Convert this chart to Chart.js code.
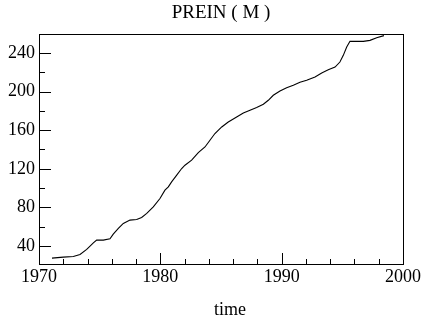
<!DOCTYPE html>
<html>
<head>
<meta charset="utf-8">
<script src="https://cdn.jsdelivr.net/npm/chart.js@4/dist/chart.umd.min.js"></script>
<style>
html,body{margin:0;padding:0;background:#fff;}
#wrap{width:423px;height:324px;}
</style>
</head>
<body>
<div id="wrap"><canvas id="c" width="423" height="324"></canvas></div>
<script>
const chartTitle = 'PREIN ( M )';
const xAxisTitle = 'time';
const years = [1971.07,1972.0,1972.83,1973.38,1973.93,1974.48,1974.75,1975.3,1975.85,1976.12,1976.54,1976.95,1977.5,1978.05,1978.46,1978.88,1979.42,1979.97,1980.38,1980.66,1980.93,1981.35,1981.76,1982.03,1982.58,1983.13,1983.68,1984.09,1984.5,1985.06,1985.6,1986.29,1986.84,1987.39,1987.94,1988.49,1988.9,1989.31,1989.86,1990.41,1990.96,1991.51,1992.06,1992.75,1993.3,1993.84,1994.4,1994.8,1995.08,1995.36,1995.63,1996.18,1996.73,1997.28,1997.83,1998.43];
const values = [27.6,28.6,29.3,31.4,36.6,43.4,46.2,46.2,47.5,52.4,58.3,63.5,66.9,67.6,69.7,73.8,80.6,89.3,97.9,101.3,106.5,113.4,120.3,123.7,128.9,136.8,142.6,149.6,156.5,163.3,168.5,173.6,177.8,180.6,183.4,186.8,190.9,196.1,200.6,204.0,206.4,209.5,211.6,215.0,219.1,222.6,225.3,230.5,237.4,246.0,251.9,251.9,251.9,252.9,255.7,257.8];
const xMajorTicks = [1970,1980,1990,2000];
const xMinorTicks = [1972,1974,1976,1978,1982,1984,1986,1988,1992,1994,1996,1998];
const yMajorTicks = [40,80,120,160,200,240];
const yMinorTicks = [60,100,140,180,220];

const FONT = 'Liberation Serif';

const framePlugin = {
  id: 'frame',
  afterDraw(chart) {
    const {ctx, chartArea: a, scales: {x, y}} = chart;
    ctx.save();
    ctx.strokeStyle = '#000';
    ctx.lineWidth = 1;
    ctx.strokeRect(Math.round(a.left)+0.5, Math.round(a.top)+0.5, Math.round(a.right-a.left), Math.round(a.bottom-a.top));
    ctx.beginPath();
    xMajorTicks.forEach(v => { const px = Math.round(x.getPixelForValue(v))+0.5; ctx.moveTo(px, a.bottom); ctx.lineTo(px, a.bottom-11); });
    xMinorTicks.forEach(v => { const px = Math.round(x.getPixelForValue(v))+0.5; ctx.moveTo(px, a.bottom); ctx.lineTo(px, a.bottom-5); });
    yMajorTicks.forEach(v => { const py = Math.round(y.getPixelForValue(v))+0.5; ctx.moveTo(a.left, py); ctx.lineTo(a.left+12, py); });
    yMinorTicks.forEach(v => { const py = Math.round(y.getPixelForValue(v))+0.5; ctx.moveTo(a.left, py); ctx.lineTo(a.left+6, py); });
    ctx.stroke();
    ctx.fillStyle = '#000';
    ctx.font = '18px "' + FONT + '"';
    ctx.textAlign = 'center';
    ctx.textBaseline = 'alphabetic';
    ctx.fillText(xAxisTitle, 230, 315);
    ctx.restore();
  }
};

new Chart(document.getElementById('c'), {
  type: 'line',
  data: {
    datasets: [{
      data: years.map((v, i) => ({x: v, y: values[i]})),
      borderColor: '#000',
      borderWidth: 1.1,
      pointRadius: 0,
      tension: 0,
      fill: false
    }]
  },
  options: {
    responsive: false,
    animation: false,
    layout: {padding: {left: 0, right: 20, top: 0, bottom: 0}},
    plugins: {
      legend: {display: false},
      tooltip: {enabled: false},
      title: {
        display: true, text: chartTitle, color: '#000', fullSize: false,
        font: {family: FONT, size: 19, weight: 'normal', lineHeight: 1.2},
        padding: {top: 2, bottom: 9.2}
      }
    },
    scales: {
      x: {
        type: 'linear', min: 1970, max: 2000,
        afterBuildTicks: s => { s.ticks = xMajorTicks.map(v => ({value: v})); },
        afterFit: s => { s.height = 60; },
        grid: {display: false, drawTicks: false},
        border: {display: false},
        ticks: {color: '#000', font: {family: FONT, size: 18}, padding: 2, maxRotation: 0, autoSkip: false,
          callback: v => String(v)}
      },
      y: {
        type: 'linear', min: 21.5, max: 259.5,
        afterBuildTicks: s => { s.ticks = yMajorTicks.map(v => ({value: v})); },
        afterFit: s => { s.width = 39; },
        grid: {display: false, drawTicks: false},
        border: {display: false},
        ticks: {color: '#000', font: {family: FONT, size: 18}, padding: 4, autoSkip: false,
          callback: v => String(v)}
      }
    }
  },
  plugins: [framePlugin]
});
</script>
</body>
</html>
